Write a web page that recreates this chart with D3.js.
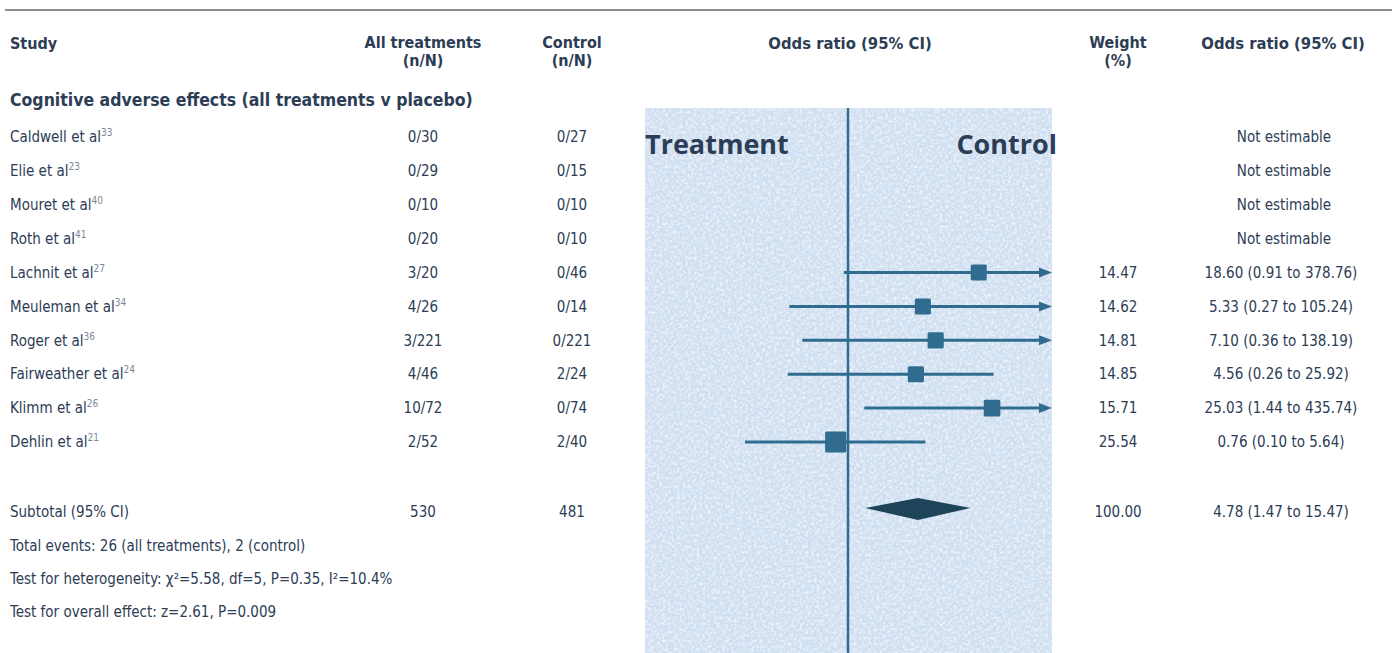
<!DOCTYPE html>
<html>
<head>
<meta charset="utf-8">
<script src="https://cdn.jsdelivr.net/npm/d3@7"></script>
<style>
  body { margin: 0; background: #fff; }
  svg text { font-family: "Liberation Sans Narrow", "DejaVu Sans Condensed", "Liberation Sans", sans-serif; fill: #2c3d55; }
</style>
</head>
<body>
<svg id="chart" width="1397" height="653"></svg>
<script>
// study rows
var studies = ["Caldwell et al", "Elie et al", "Mouret et al", "Roth et al", "Lachnit et al",
               "Meuleman et al", "Roger et al", "Fairweather et al", "Klimm et al", "Dehlin et al"];
var refs = ["33", "23", "40", "41", "27", "34", "36", "24", "26", "21"];
var treatEvents = [0, 0, 0, 0, 3, 4, 3, 4, 10, 2];
var treatTotal  = [30, 29, 10, 20, 20, 26, 221, 46, 72, 52];
var ctrlEvents  = [0, 0, 0, 0, 0, 0, 0, 2, 0, 2];
var ctrlTotal   = [27, 15, 10, 10, 46, 14, 221, 24, 74, 40];
var weights     = [null, null, null, null, 14.47, 14.62, 14.81, 14.85, 15.71, 25.54];
var oddsRatio   = [null, null, null, null, 18.60, 5.33, 7.10, 4.56, 25.03, 0.76];
var ciLow       = [null, null, null, null, 0.91, 0.27, 0.36, 0.26, 1.44, 0.10];
var ciHigh      = [null, null, null, null, 378.76, 105.24, 138.19, 25.92, 435.74, 5.64];

// pooled result
var subtotalTreat = 530, subtotalCtrl = 481, subtotalWeight = 100.00;
var pooledOR = 4.78, pooledLow = 1.47, pooledHigh = 15.47;
var footLines = [
  "Total events: 26 (all treatments), 2 (control)",
  "Test for heterogeneity: χ²=5.58, df=5, P=0.35, I²=10.4%",
  "Test for overall effect: z=2.61, P=0.009"
];

var svg = d3.select("#chart");
var x = d3.scaleLog().domain([0.01, 100]).range([642, 1054]);
var y = d3.scaleLinear().domain([0, 9]).range([137, 442]);
var plotLeft = 645, plotRight = 1052;
var blue = "#2f6c90";
var fs = 15;

// noisy pale blue panel
var defs = svg.append("defs");
var f = defs.append("filter").attr("id", "grain");
f.append("feTurbulence").attr("type", "fractalNoise").attr("baseFrequency", 0.35).attr("numOctaves", 3).attr("seed", 5);
f.append("feColorMatrix").attr("values", "0 0 0 0 1  0 0 0 0 1  0 0 0 0 1  0 0 0 2.2 -0.9");
svg.append("rect").attr("x", plotLeft).attr("y", 108).attr("width", plotRight - plotLeft).attr("height", 545)
  .attr("fill", "#cfdff1");
svg.append("rect").attr("x", plotLeft).attr("y", 108).attr("width", plotRight - plotLeft).attr("height", 545)
  .attr("filter", "url(#grain)").attr("opacity", 0.75);

// top rule
svg.append("line").attr("x1", 5).attr("x2", 1392).attr("y1", 10).attr("y2", 10)
  .attr("stroke", "#8a8f96").attr("stroke-width", 2);

// headers
function header(txt, xx, yy, anchor, size) {
  svg.append("text").attr("x", xx).attr("y", yy).attr("text-anchor", anchor || "middle")
    .attr("font-size", size || 16).attr("font-weight", "bold").text(txt);
}
header("Study", 10, 49, "start");
header("All treatments", 423, 48); header("(n/N)", 423, 66);
header("Control", 572, 48); header("(n/N)", 572, 66);
header("Odds ratio (95% CI)", 850, 49, "middle", 16.5);
header("Weight", 1118, 48); header("(%)", 1118, 66);
header("Odds ratio (95% CI)", 1283, 49, "middle", 16.5);
header("Cognitive adverse effects (all treatments v placebo)", 10, 106, "start", 17.5);

// side labels in panel
svg.append("text").attr("x", 645).attr("y", 154).attr("font-size", 27).attr("font-weight", "bold")
  .style("font-family", "'Open Sans', sans-serif").text("Treatment");
svg.append("text").attr("x", 1057).attr("y", 154).attr("text-anchor", "end").attr("font-size", 27)
  .attr("font-weight", "bold").style("font-family", "'Open Sans', sans-serif").text("Control");

// null line
svg.append("line").attr("x1", x(1)).attr("x2", x(1)).attr("y1", 108).attr("y2", 653)
  .attr("stroke", blue).attr("stroke-width", 2.5);

// table rows
var rows = svg.selectAll("g.row").data(studies).enter().append("g").attr("class", "row");
rows.each(function (d, i) {
  var g = d3.select(this), yy = y(i);
  var t = g.append("text").attr("x", 10).attr("y", yy).attr("dy", "0.35em").attr("font-size", fs).text(d);
  t.append("tspan").attr("dy", "-0.6em").attr("font-size", 10).style("fill", "#7c8796").text(refs[i]);
  g.append("text").attr("x", 423).attr("y", yy).attr("dy", "0.35em").attr("text-anchor", "middle")
    .attr("font-size", fs).text(treatEvents[i] + "/" + treatTotal[i]);
  g.append("text").attr("x", 572).attr("y", yy).attr("dy", "0.35em").attr("text-anchor", "middle")
    .attr("font-size", fs).text(ctrlEvents[i] + "/" + ctrlTotal[i]);
  if (weights[i] != null) {
    g.append("text").attr("x", 1118).attr("y", yy).attr("dy", "0.35em").attr("text-anchor", "middle")
      .attr("font-size", fs).text(weights[i].toFixed(2));
    g.append("text").attr("x", 1281).attr("y", yy).attr("dy", "0.35em").attr("text-anchor", "middle")
      .attr("font-size", fs)
      .text(oddsRatio[i].toFixed(2) + " (" + ciLow[i].toFixed(2) + " to " + ciHigh[i].toFixed(2) + ")");

    // CI line, arrow if it runs off the panel
    var x1 = Math.max(x(ciLow[i]), plotLeft), x2 = Math.min(x(ciHigh[i]), plotRight);
    var arrowR = x(ciHigh[i]) > plotRight;
    g.append("line").attr("x1", x1).attr("x2", arrowR ? x2 - 8 : x2).attr("y1", yy).attr("y2", yy)
      .attr("stroke", blue).attr("stroke-width", 3);
    if (arrowR) {
      g.append("path").attr("fill", blue)
        .attr("d", "M" + x2 + "," + yy + "L" + (x2 - 13) + "," + (yy - 5) + "L" + (x2 - 13) + "," + (yy + 5) + "Z");
    }
    var s = 4.2 * Math.sqrt(weights[i]);
    g.append("rect").attr("x", x(oddsRatio[i]) - s / 2).attr("y", yy - s / 2)
      .attr("width", s).attr("height", s).attr("rx", 1.5).attr("fill", blue);
  } else {
    g.append("text").attr("x", 1284).attr("y", yy).attr("dy", "0.35em").attr("text-anchor", "middle")
      .attr("font-size", fs).text("Not estimable");
  }
});

// subtotal row
var ys = 512;
svg.append("text").attr("x", 10).attr("y", ys).attr("dy", "0.35em").attr("font-size", fs).text("Subtotal (95% CI)");
svg.append("text").attr("x", 423).attr("y", ys).attr("dy", "0.35em").attr("text-anchor", "middle").attr("font-size", fs).text(subtotalTreat);
svg.append("text").attr("x", 572).attr("y", ys).attr("dy", "0.35em").attr("text-anchor", "middle").attr("font-size", fs).text(subtotalCtrl);
svg.append("text").attr("x", 1118).attr("y", ys).attr("dy", "0.35em").attr("text-anchor", "middle").attr("font-size", fs).text(subtotalWeight.toFixed(2));
svg.append("text").attr("x", 1281).attr("y", ys).attr("dy", "0.35em").attr("text-anchor", "middle").attr("font-size", fs)
  .text(pooledOR.toFixed(2) + " (" + pooledLow.toFixed(2) + " to " + pooledHigh.toFixed(2) + ")");
var yd = 508;
svg.append("path").attr("fill", "#1d4459")
  .attr("d", "M" + x(pooledLow) + "," + yd + "L" + x(pooledOR) + "," + (yd - 10) + "L" + x(pooledHigh) + "," + yd +
             "L" + x(pooledOR) + "," + (yd + 12) + "Z");

svg.selectAll("text.foot").data(footLines).enter().append("text").attr("class", "foot")
  .attr("x", 10).attr("y", function (d, i) { return 546 + i * 33; }).attr("dy", "0.35em")
  .attr("font-size", fs).text(function (d) { return d; });
</script>
</body>
</html>
